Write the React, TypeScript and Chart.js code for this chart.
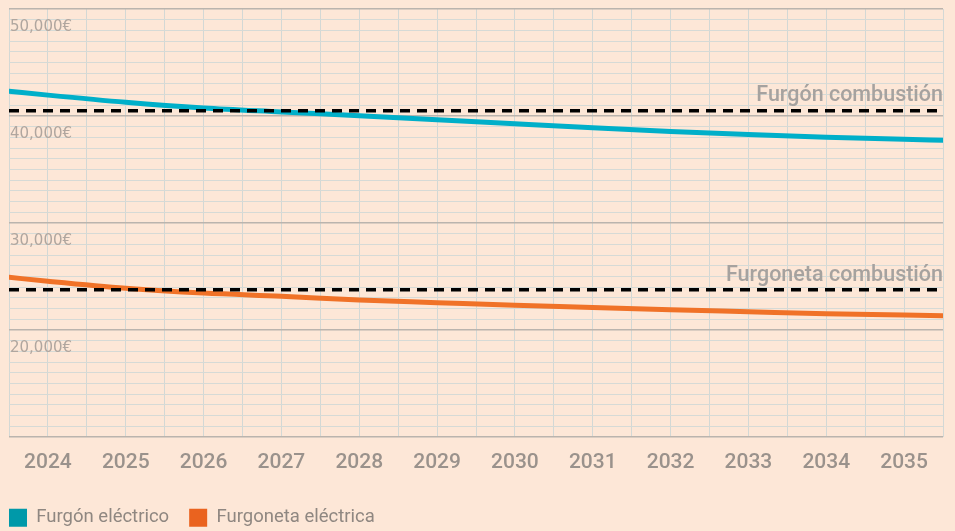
import { useEffect, useRef } from 'react';
import { Chart, registerables } from 'chart.js';

Chart.register(...registerables);

const years = [2023.5, 2024, 2025, 2026, 2027, 2028, 2029, 2030, 2031, 2032, 2033, 2034, 2035, 2035.5];
const furgonElectrico = [42320, 41950, 41280, 40750, 40380, 40020, 39650, 39270, 38900, 38560, 38260, 38020, 37820, 37730];
const furgonetaElectrica = [24920, 24550, 23900, 23450, 23150, 22800, 22550, 22300, 22100, 21880, 21700, 21520, 21400, 21330];
const combustionSpan = [2023.5, 2035.5];
const furgonCombustion = [40500, 40500];
const furgonetaCombustion = [23750, 23750];
const seriesNames = ['Furgón eléctrico', 'Furgoneta eléctrica'];
const combustionNames = ['Furgón combustión', 'Furgoneta combustión'];
const yMin = 10000;
const yMax = 50000;

const BG = '#fde7d7';
const BLUE = '#00afc9';
const ORANGE = '#f07228';
const BLUE_LEGEND = '#0099a9';
const ORANGE_LEGEND = '#ea631f';

export default function App() {
  const ref = useRef<HTMLCanvasElement | null>(null);

  useEffect(() => {
    document.body.style.margin = '0';
    document.body.style.background = BG;
    const canvas = ref.current;
    if (!canvas) return;

    const annotationPlugin = {
      id: 'combustionLabels',
      afterDatasetsDraw(chart: any) {
        const { ctx, scales } = chart;
        const x = scales.x.getPixelForValue(combustionSpan[1]);
        ctx.save();
        ctx.font = '500 21.5px Roboto';
        ctx.fillStyle = '#a6a29f';
        ctx.textAlign = 'right';
        ctx.textBaseline = 'alphabetic';
        ctx.fillText(combustionNames[0], x, scales.y.getPixelForValue(furgonCombustion[0]) - 9.5);
        ctx.fillText(combustionNames[1], x, scales.y.getPixelForValue(furgonetaCombustion[0]) - 8.5);
        ctx.restore();
      },
    };

    const chart = new Chart(canvas, {
      type: 'line',
      data: {
        datasets: [
          {
            label: combustionNames[0],
            data: combustionSpan.map((x, i) => ({ x, y: furgonCombustion[i] })),
            borderColor: '#000000',
            borderWidth: 3.5,
            borderDash: [10, 7],
            pointRadius: 0,
            order: 0,
          },
          {
            label: combustionNames[1],
            data: combustionSpan.map((x, i) => ({ x, y: furgonetaCombustion[i] })),
            borderColor: '#000000',
            borderWidth: 3.5,
            borderDash: [10, 7],
            pointRadius: 0,
            order: 0,
          },
          {
            label: seriesNames[0],
            data: years.map((x, i) => ({ x, y: furgonElectrico[i] })),
            borderColor: BLUE,
            backgroundColor: BLUE_LEGEND,
            borderWidth: 5,
            borderCapStyle: 'round',
            cubicInterpolationMode: 'monotone',
            pointRadius: 0,
            order: 1,
          },
          {
            label: seriesNames[1],
            data: years.map((x, i) => ({ x, y: furgonetaElectrica[i] })),
            borderColor: ORANGE,
            backgroundColor: ORANGE_LEGEND,
            borderWidth: 5,
            borderCapStyle: 'round',
            cubicInterpolationMode: 'monotone',
            pointRadius: 0,
            order: 1,
          },
        ],
      },
      options: {
        animation: false,
        responsive: true,
        maintainAspectRatio: false,
        layout: { padding: { left: -11, right: 12, top: 9, bottom: -6 } },
        scales: {
          x: {
            type: 'linear',
            min: combustionSpan[0],
            max: combustionSpan[1],
            border: { display: false },
            grid: { color: '#d3d8d5', lineWidth: 1, drawTicks: false },
            ticks: {
              stepSize: 0.5,
              autoSkip: false,
              maxRotation: 0,
              padding: 13.2,
              color: '#9a928c',
              font: { family: 'Roboto', size: 21, weight: '500' },
              callback: (v: any) => (Number.isInteger(Number(v)) ? String(v) : ''),
            },
            afterFit: (s: any) => {
              s.paddingLeft = 0;
              s.paddingRight = 0;
            },
          },
          y: {
            type: 'linear',
            min: yMin,
            max: yMax,
            border: { display: false },
            grid: {
              drawTicks: false,
              color: (c: any) => (c.tick && c.tick.value % 10000 === 0 ? '#bab4ae' : '#d6dad6'),
              lineWidth: (c: any) => (c.tick && c.tick.value % 10000 === 0 ? 1.5 : 1),
            },
            ticks: {
              stepSize: 1000,
              autoSkip: false,
              mirror: true,
              padding: 1,
              labelOffset: 18,
              color: '#b0a69f',
              font: { family: 'DejaVu Sans', size: 15, weight: 'normal' },
              callback: (v: any) =>
                Number(v) % 10000 === 0 && Number(v) > yMin ? Number(v).toLocaleString('en-US') + '€' : '',
            },
            afterFit: (s: any) => {
              s.width = 20;
              s.paddingTop = 0;
              s.paddingBottom = 0;
            },
          },
        },
        plugins: {
          tooltip: { enabled: false },
          legend: {
            position: 'bottom',
            align: 'start',
            labels: {
              boxWidth: 18,
              boxHeight: 18,
              padding: 20,
              color: '#8f8781',
              font: { family: 'Roboto', size: 18.5 },
              filter: (item: any) => seriesNames.includes(item.text),
              generateLabels: (c: any) =>
                Chart.defaults.plugins.legend.labels.generateLabels(c).map((it: any) => ({
                  ...it,
                  lineWidth: 0,
                  strokeStyle: 'rgba(0,0,0,0)',
                })),
            },
          },
        },
      },
      plugins: [annotationPlugin],
    } as any);

    return () => chart.destroy();
  }, []);

  return (
    <div style={{ width: 955, height: 531, position: 'relative', background: BG }}>
      <canvas ref={ref} />
    </div>
  );
}
